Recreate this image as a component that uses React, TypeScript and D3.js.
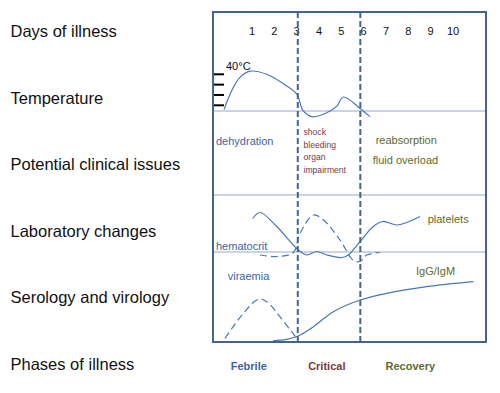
import React from "react";
import * as d3 from "d3";

const rowLabels = ["Days of illness", "Temperature", "Potential clinical issues", "Laboratory changes", "Serology and virology", "Phases of illness"];
const dayTicks = [1, 2, 3, 4, 5, 6, 7, 8, 9, 10];
const phaseBoundaries = [3.05, 5.85];
const tempTicks = [37, 38, 39, 40];

const tempDays = [-0.25, 0.1, 0.46, 0.91, 1.66, 2.39, 3.0, 3.28, 3.67, 4.27, 4.79, 5.09, 5.84, 6.28];
const tempValues = [36.6, 38.45, 39.7, 40.3, 40.0, 39.1, 38.1, 36.5, 35.9, 36.2, 36.9, 37.8, 36.7, 35.9];

const criticalIssues = ["shock", "bleeding", "organ", "impairment"];
const recoveryIssues = ["reabsorption", "fluid overload"];

const plateletDays = [1.03, 1.36, 2.11, 3.0, 3.45, 3.9, 4.35, 5.02, 5.31, 5.84, 6.43, 6.85, 7.48, 7.93, 8.52];
const plateletValues = [8.7, 9.9, 7.1, 2.7, 1.4, 2.1, 1.4, 0.9, 1.4, 4.1, 7.1, 8.1, 7.4, 7.9, 9.1];

const hematocritDays = [1.36, 2.11, 2.85, 3.15, 3.75, 4.2, 4.94, 5.54, 5.84, 6.14, 6.73];
const hematocritValues = [1.4, 1.1, 1.9, 5.7, 9.4, 8.4, 4.4, 0.3, 0.1, 1.4, 1.9];

const viraemiaDays = [-0.21, 0.61, 1.28, 1.66, 2.25, 2.85, 3.0];
const viraemiaValues = [0.45, 4.6, 6.95, 6.55, 4.05, 1.17, 0.45];

const iggDays = [1.95, 2.55, 3.07, 3.75, 4.64, 5.84, 7.03, 8.82, 10.91];
const iggValues = [0.05, 0.28, 0.83, 2.38, 4.88, 6.83, 7.95, 9.05, 9.88];

const phaseNames = ["Febrile", "Critical", "Recovery"];

const FONT = "'Liberation Sans', Arial, Helvetica, sans-serif";
const BOX = { left: 213, right: 486, top: 12, bottom: 342 };
const DIVIDERS = [111, 195, 252];
const C = {
  frame: "#44638f",
  divider: "#93abcf",
  curve: "#4a76bd",
  blue: "#3e63a0",
  red: "#7a3a3f",
  green: "#5d6b2c",
};

export default function App() {
  const x = d3.scaleLinear().domain([1, 10]).range([252, 453]);
  const tempY = d3.scaleLinear().domain([37, 40]).range([105.3, 74.3]);
  const labY = d3.scaleLinear().domain([0, 10]).range([262, 212]);
  const seroY = d3.scaleLinear().domain([0, 10]).range([341, 281]);

  const mk = (ys: d3.ScaleLinear<number, number>) =>
    d3
      .line<[number, number]>()
      .x((d) => x(d[0]))
      .y((d) => ys(d[1]))
      .curve(d3.curveCatmullRom.alpha(0.5));

  const zip = (a: number[], b: number[]) => a.map((v, i) => [v, b[i]] as [number, number]);

  const tempPath = mk(tempY)(zip(tempDays, tempValues)) || "";
  const plateletPath = mk(labY)(zip(plateletDays, plateletValues)) || "";
  const hematocritPath = mk(labY)(zip(hematocritDays, hematocritValues)) || "";
  const viraemiaPath = mk(seroY)(zip(viraemiaDays, viraemiaValues)) || "";
  const iggPath = mk(seroY)(zip(iggDays, iggValues)) || "";

  const phaseCenters = [248.8, 326.8, 410.3];

  return (
    <svg
      width={500}
      height={393}
      style={{ position: "absolute", left: 0, top: 0, background: "#fff" }}
      fontFamily={FONT}
    >
      {rowLabels.map((t, i) => (
        <text key={t} x={10.5} y={37 + i * 66.6} fontSize={16.5} fill="#111">
          {t}
        </text>
      ))}

      {DIVIDERS.map((y) => (
        <line key={y} x1={BOX.left} x2={BOX.right} y1={y} y2={y} stroke={C.divider} strokeWidth={1.2} />
      ))}

      {dayTicks.map((d) => (
        <text key={d} x={x(d)} y={35} fontSize={11} textAnchor="middle" fill="#111">
          {d}
        </text>
      ))}

      {tempTicks.map((t) => (
        <line key={t} x1={BOX.left} x2={224} y1={tempY(t)} y2={tempY(t)} stroke="#000" strokeWidth={2} />
      ))}
      <text x={226} y={70} fontSize={11} fill="#111">
        40°C
      </text>
      <path d={tempPath} fill="none" stroke={C.curve} strokeWidth={1.2} />

      <text x={216} y={144.5} fontSize={11} fill={C.blue}>
        dehydration
      </text>
      {criticalIssues.map((t, i) => (
        <text key={t} x={303.5} y={135 + i * 12.7} fontSize={8.6} fill={C.red}>
          {t}
        </text>
      ))}
      {recoveryIssues.map((t, i) => (
        <text key={t} x={i === 0 ? 375.7 : 372.7} y={144.3 + i * 20} fontSize={11} fill={C.green}>
          {t}
        </text>
      ))}

      <path d={plateletPath} fill="none" stroke={C.curve} strokeWidth={1.2} />
      <path d={hematocritPath} fill="none" stroke={C.curve} strokeWidth={1.2} strokeDasharray="7,4" />
      <text x={216} y={249.5} fontSize={11} fill={C.blue}>
        hematocrit
      </text>
      <text x={427.7} y={223.3} fontSize={11} fill={C.green}>
        platelets
      </text>

      <path d={viraemiaPath} fill="none" stroke={C.curve} strokeWidth={1.2} strokeDasharray="7,4" />
      <path d={iggPath} fill="none" stroke={C.curve} strokeWidth={1.2} />
      <text x={227.7} y={280} fontSize={11} fill={C.blue}>
        viraemia
      </text>
      <text x={416} y={275} fontSize={11} fill={C.green}>
        IgG/IgM
      </text>

      {phaseBoundaries.map((d) => (
        <line
          key={d}
          x1={x(d)}
          x2={x(d)}
          y1={BOX.top}
          y2={BOX.bottom}
          stroke={C.frame}
          strokeWidth={2}
          strokeDasharray="6,3"
        />
      ))}

      <rect
        x={BOX.left}
        y={BOX.top}
        width={BOX.right - BOX.left}
        height={BOX.bottom - BOX.top}
        fill="none"
        stroke={C.frame}
        strokeWidth={2}
      />

      {phaseNames.map((t, i) => (
        <text
          key={t}
          x={phaseCenters[i]}
          y={370}
          fontSize={11}
          fontWeight="bold"
          textAnchor="middle"
          fill={[C.blue, C.red, C.green][i]}
        >
          {t}
        </text>
      ))}
    </svg>
  );
}
